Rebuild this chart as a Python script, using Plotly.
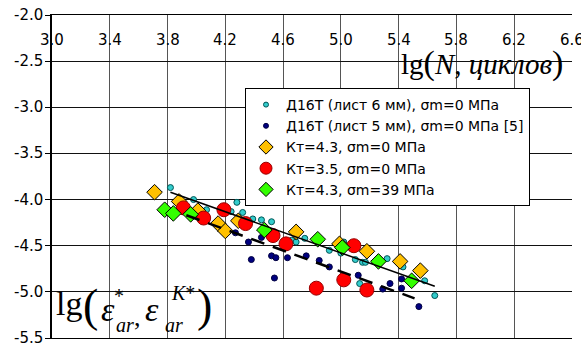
import plotly.graph_objects as go

# ---- data ----
x_6mm = [3.82, 3.98, 4.07, 4.24, 4.28, 4.32, 4.39, 4.45, 4.52, 4.66, 4.69, 4.75, 4.92, 5.00, 5.02,
         5.10, 5.15, 5.17, 5.32, 5.43, 5.58, 5.13, 5.65]
y_6mm = [-3.87, -4.00, -4.11, -4.13, -4.03, -4.14, -4.21, -4.22, -4.24, -4.44, -4.46, -4.42, -4.55, -4.58, -4.46,
         -4.65, -4.68, -4.68, -4.64, -4.73, -4.88, -4.91, -5.04]

x_5mm = [4.27, 4.36, 4.45, 4.38, 4.52, 4.55, 4.63, 4.54, 4.76, 4.85, 4.92, 5.12, 5.29, 5.34, 5.42, 5.42, 5.54]
y_5mm = [-4.36, -4.46, -4.41, -4.65, -4.61, -4.63, -4.63, -4.85, -4.61, -4.66, -4.73, -4.82, -4.97, -4.91, -4.86, -4.96, -5.16]

x_kt43 = [3.71, 3.88, 4.01, 4.15, 4.20, 4.29, 4.69, 4.99, 5.18, 5.41, 5.55]
y_kt43 = [-3.92, -4.02, -4.12, -4.26, -4.34, -4.23, -4.35, -4.48, -4.56, -4.67, -4.77]

x_kt35 = [3.91, 4.05, 4.19, 4.34, 4.53, 4.62, 4.83, 5.09, 5.02, 5.18]
y_kt35 = [-4.09, -4.20, -4.11, -4.26, -4.39, -4.48, -4.96, -4.50, -4.87, -4.98]

x_kt43m = [3.78, 3.84, 3.96, 4.47, 4.84, 5.01, 5.26, 5.49]
y_kt43m = [-4.11, -4.15, -4.16, -4.33, -4.43, -4.52, -4.67, -4.88]

fit_solid_x = [3.82, 5.65]
fit_solid_y = [-3.92, -4.94]
fit_dash_x = [3.93, 5.51]
fit_dash_y = [-4.17, -5.07]

x_ticks = [3.0, 3.4, 3.8, 4.2, 4.6, 5.0, 5.4, 5.8, 6.2, 6.6]
y_ticks = [-2.0, -2.5, -3.0, -3.5, -4.0, -4.5, -5.0, -5.5]

names = ["Д16Т (лист 6 мм), σm=0 МПа",
         "Д16Т (лист 5 мм), σm=0 МПа [5]",
         "Кт=4.3, σm=0 МПа",
         "Кт=3.5, σm=0 МПа",
         "Кт=4.3, σm=39 МПа"]

series = [
    (x_6mm, y_6mm, dict(symbol="circle", size=6, color="#33CCCC", line=dict(color="#005555", width=1)), 5),
    (x_5mm, y_5mm, dict(symbol="circle", size=6, color="#000080", line=dict(color="#000040", width=1)), 5),
    (x_kt43, y_kt43, dict(symbol="diamond", size=12, color="#FFC000", line=dict(color="#000000", width=1)), 11),
    (x_kt35, y_kt35, dict(symbol="circle", size=14, color="#FF0000", line=dict(color="#990000", width=1)), 12),
    (x_kt43m, y_kt43m, dict(symbol="diamond", size=12, color="#33FF00", line=dict(color="#000000", width=1)), 11),
]

fig = go.Figure()
for (xs, ys, mk, _), nm in zip(series, names):
    fig.add_trace(go.Scatter(x=xs, y=ys, mode="markers", name=nm, showlegend=False, marker=mk))
# legend entries (smaller markers as in the reference legend)
for (xs, ys, mk, lsize), nm in zip(series, names):
    lm = dict(mk)
    lm["size"] = lsize
    fig.add_trace(go.Scatter(x=[None], y=[None], mode="markers", name=nm, marker=lm))

fig.add_trace(go.Scatter(x=fit_solid_x, y=fit_solid_y, mode="lines", showlegend=False,
                         line=dict(color="#000000", width=1.5)))
fig.add_trace(go.Scatter(x=fit_dash_x, y=fit_dash_y, mode="lines", showlegend=False,
                         line=dict(color="#000000", width=2.5, dash="14px,9px")))

W, H = 581, 347
PL, PR, PT, PB = 52, 572, 15, 338          # plot area in window pixels
L, R, T, B = PL, W - PR, PT, H - PB
pw, ph = PR - PL, PB - PT


def ppx(x):
    return (x - PL) / pw


def ppy(y):
    return (PB - y) / ph


serif = "Liberation Serif, Times New Roman, serif"
sans = "DejaVu Sans, Arial, sans-serif"
ann = []


def add(text, x, y, size, italic=False):
    t = f"<i>{text}</i>" if italic else text
    ann.append(dict(text=t, x=ppx(x), y=ppy(y), xref="paper", yref="paper",
                    xanchor="center", yanchor="middle", showarrow=False,
                    font=dict(family=serif, size=size, color="#000000")))


# x tick labels (drawn inside the plot just below the top axis)
for v in x_ticks:
    ann.append(dict(text=f"{v:.1f}", x=v, y=ppy(40), xref="x", yref="paper",
                    xanchor="center", yanchor="middle", showarrow=False,
                    font=dict(family=sans, size=15, color="#000000")))

# y tick labels
for v in y_ticks:
    ann.append(dict(text=f"{v:.1f}", x=ppx(45), y=v, xref="paper", yref="y",
                    xanchor="right", yanchor="middle", showarrow=False,
                    font=dict(family=sans, size=15, color="#000000")))

# y-axis title  lg(ε*_ar, ε^{K*}_ar)
add("lg", 69, 303, 34)
add("(", 90, 305, 46)
add("ε", 108, 309, 34, True)
add("*", 119, 296, 20)
add("ar", 125, 325, 20, True)
add(",", 137, 317, 26)
add("ε", 152, 309, 34, True)
add("<i>K</i>*", 183, 293, 20)
add("ar", 174, 325, 20, True)
add(")", 204, 305, 46)

# x-axis title  lg(N, циклов)
ann.append(dict(text='lg<span style="font-size:34px">(</span><i>N</i>, <i>циклов</i><span style="font-size:34px">)</span>',
                x=ppx(482), y=ppy(63), xref="paper", yref="paper",
                xanchor="center", yanchor="middle", showarrow=False,
                font=dict(family=serif, size=29, color="#000000")))

fig.update_layout(
    width=W, height=H,
    margin=dict(l=L, r=R, t=T, b=B, pad=0),
    paper_bgcolor="white", plot_bgcolor="white",
    font=dict(family=sans, size=15, color="#000000"),
    hovermode=False,
    annotations=ann,
    legend=dict(x=ppx(245), y=ppy(88), xanchor="left", yanchor="top",
                bgcolor="white", bordercolor="#000000", borderwidth=1,
                font=dict(family=sans, size=14, color="#000000"),
                itemsizing="trace", tracegroupgap=0, entrywidth=290),
    xaxis=dict(range=[3.0, 6.6], tickvals=x_ticks, showticklabels=False, ticks="",
               side="top", automargin=False,
               showgrid=True, gridcolor="#555555", gridwidth=1,
               showline=True, linecolor="#000000", linewidth=1.3,
               zeroline=False, mirror=True),
    yaxis=dict(range=[-5.5, -2.0], tickvals=y_ticks, showticklabels=False,
               ticks="outside", ticklen=5, tickcolor="#000000", automargin=False,
               showgrid=True, gridcolor="#111111", gridwidth=1,
               showline=True, linecolor="#000000", linewidth=2,
               zeroline=False),
)

fig.write_html("out.html", config={"displayModeBar": False},
               post_script="document.body.style.margin='0px';")
